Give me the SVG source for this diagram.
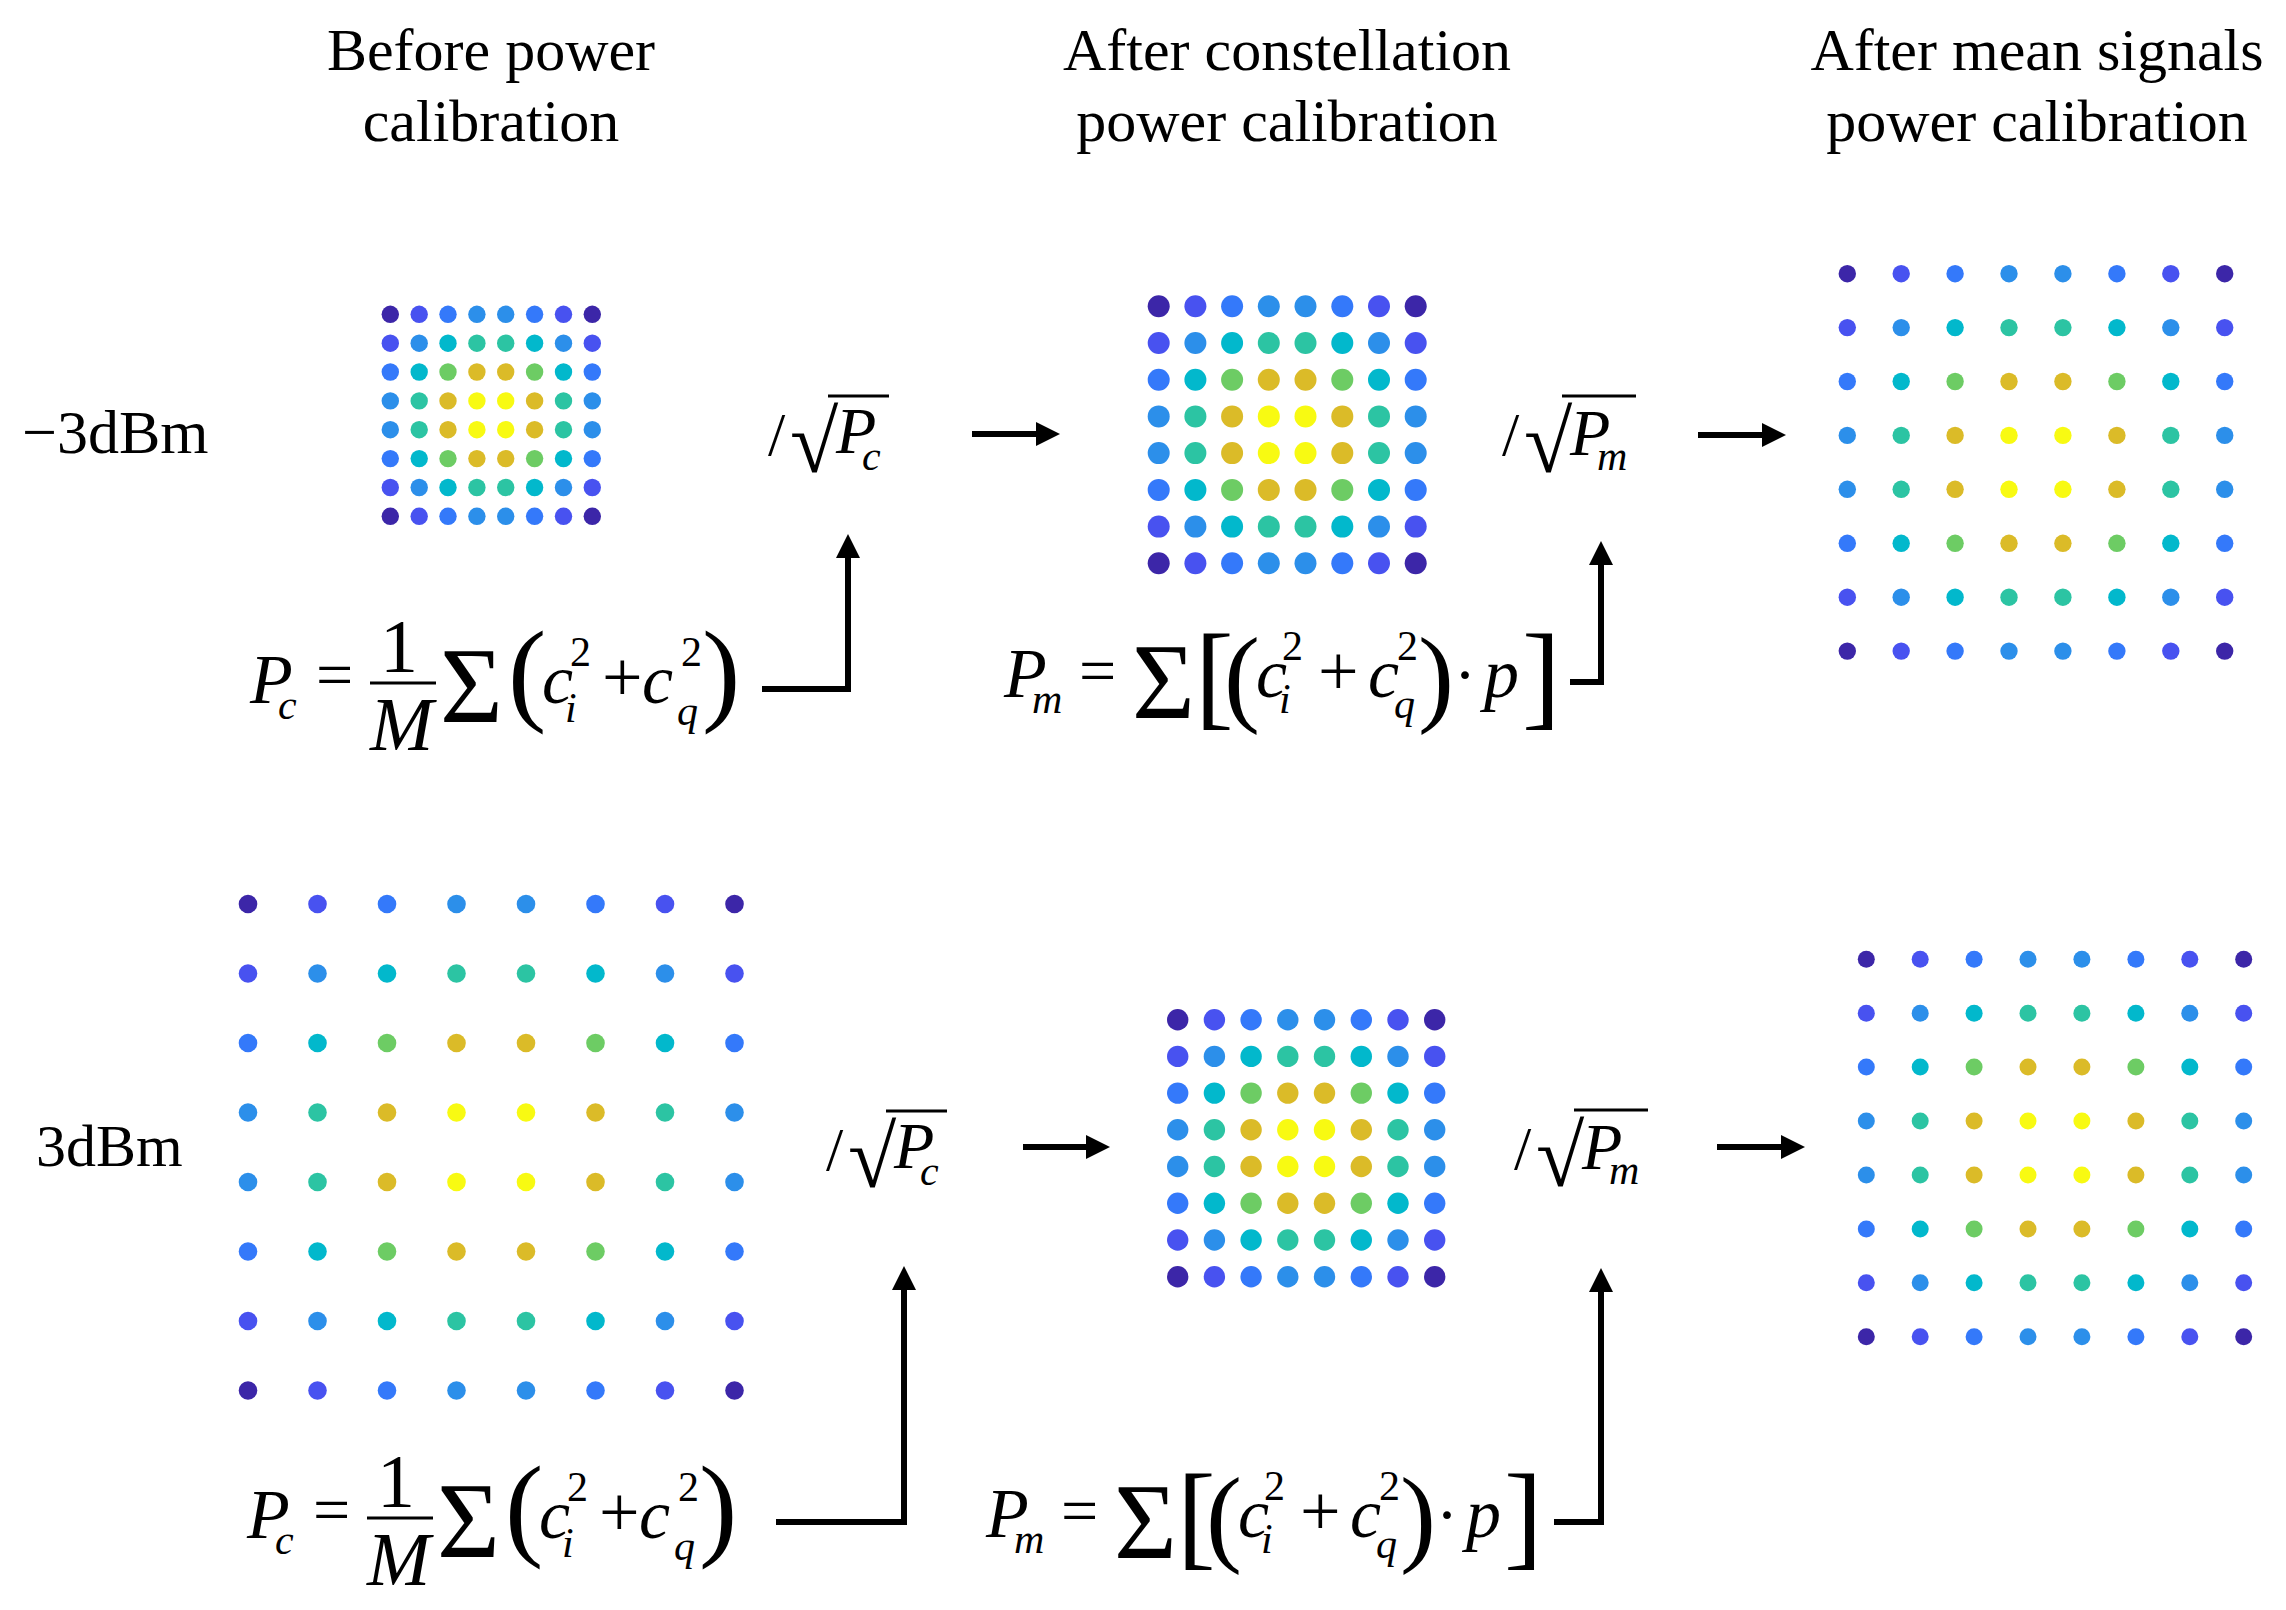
<svg xmlns="http://www.w3.org/2000/svg" width="2286" height="1610" viewBox="0 0 2286 1610">
<style>
.t{font-family:"Liberation Serif","Times New Roman",serif;font-size:60px;fill:#000}
.m{font-family:"Liberation Serif","Times New Roman",serif;font-size:66px;fill:#000}
.i{font-style:italic}
.v{font-size:70px}
.s{font-size:42px}
.f{font-size:76px}
.pl{font-size:72px}
.ln{stroke:#000;stroke-width:6;fill:none}
.bar{stroke:#000;stroke-width:3}
.k0{fill:#F8FA12}.k1{fill:#DBBB28}.k2{fill:#6DCC64}.k3{fill:#2CC4A3}.k4{fill:#02B8CC}
.k5{fill:#2C8FEA}.k6{fill:#3479FA}.k7{fill:#4852F0}.k8{fill:#3C26A8}
</style>
<defs>
<marker id="ah" markerUnits="userSpaceOnUse" markerWidth="24" markerHeight="24" refX="12" refY="12" orient="auto" viewBox="0 0 24 24"><path d="M0,0 L24,12 L0,24 Z" fill="#000"/></marker>
</defs>
<rect width="2286" height="1610" fill="#fff"/>

<g id="titles">
<text class="t" x="491" y="70" text-anchor="middle">Before power</text>
<text class="t" x="491" y="141" text-anchor="middle">calibration</text>
<text class="t" x="1287" y="70" text-anchor="middle">After constellation</text>
<text class="t" x="1287" y="141" text-anchor="middle">power calibration</text>
<text class="t" x="2037" y="70" text-anchor="middle">After mean signals</text>
<text class="t" x="2037" y="141" text-anchor="middle">power calibration</text>
</g>
<g id="row-labels">
<text class="t" x="22" y="453" style="font-size:62px">−3dBm</text>
<text class="t" x="36" y="1166">3dBm</text>
</g>

<g id="grid-top-before">
<g transform="translate(0,314.3)"><circle class="k8" cx="390.3" r="8.7"/><circle class="k7" cx="419.2" r="8.7"/><circle class="k6" cx="448" r="8.7"/><circle class="k5" cx="476.9" r="8.7"/><circle class="k5" cx="505.7" r="8.7"/><circle class="k6" cx="534.6" r="8.7"/><circle class="k7" cx="563.5" r="8.7"/><circle class="k8" cx="592.3" r="8.7"/></g>
<g transform="translate(0,343.2)"><circle class="k7" cx="390.3" r="8.7"/><circle class="k5" cx="419.2" r="8.7"/><circle class="k4" cx="448" r="8.7"/><circle class="k3" cx="476.9" r="8.7"/><circle class="k3" cx="505.7" r="8.7"/><circle class="k4" cx="534.6" r="8.7"/><circle class="k5" cx="563.5" r="8.7"/><circle class="k7" cx="592.3" r="8.7"/></g>
<g transform="translate(0,372)"><circle class="k6" cx="390.3" r="8.7"/><circle class="k4" cx="419.2" r="8.7"/><circle class="k2" cx="448" r="8.7"/><circle class="k1" cx="476.9" r="8.7"/><circle class="k1" cx="505.7" r="8.7"/><circle class="k2" cx="534.6" r="8.7"/><circle class="k4" cx="563.5" r="8.7"/><circle class="k6" cx="592.3" r="8.7"/></g>
<g transform="translate(0,400.9)"><circle class="k5" cx="390.3" r="8.7"/><circle class="k3" cx="419.2" r="8.7"/><circle class="k1" cx="448" r="8.7"/><circle class="k0" cx="476.9" r="8.7"/><circle class="k0" cx="505.7" r="8.7"/><circle class="k1" cx="534.6" r="8.7"/><circle class="k3" cx="563.5" r="8.7"/><circle class="k5" cx="592.3" r="8.7"/></g>
<g transform="translate(0,429.7)"><circle class="k5" cx="390.3" r="8.7"/><circle class="k3" cx="419.2" r="8.7"/><circle class="k1" cx="448" r="8.7"/><circle class="k0" cx="476.9" r="8.7"/><circle class="k0" cx="505.7" r="8.7"/><circle class="k1" cx="534.6" r="8.7"/><circle class="k3" cx="563.5" r="8.7"/><circle class="k5" cx="592.3" r="8.7"/></g>
<g transform="translate(0,458.6)"><circle class="k6" cx="390.3" r="8.7"/><circle class="k4" cx="419.2" r="8.7"/><circle class="k2" cx="448" r="8.7"/><circle class="k1" cx="476.9" r="8.7"/><circle class="k1" cx="505.7" r="8.7"/><circle class="k2" cx="534.6" r="8.7"/><circle class="k4" cx="563.5" r="8.7"/><circle class="k6" cx="592.3" r="8.7"/></g>
<g transform="translate(0,487.5)"><circle class="k7" cx="390.3" r="8.7"/><circle class="k5" cx="419.2" r="8.7"/><circle class="k4" cx="448" r="8.7"/><circle class="k3" cx="476.9" r="8.7"/><circle class="k3" cx="505.7" r="8.7"/><circle class="k4" cx="534.6" r="8.7"/><circle class="k5" cx="563.5" r="8.7"/><circle class="k7" cx="592.3" r="8.7"/></g>
<g transform="translate(0,516.3)"><circle class="k8" cx="390.3" r="8.7"/><circle class="k7" cx="419.2" r="8.7"/><circle class="k6" cx="448" r="8.7"/><circle class="k5" cx="476.9" r="8.7"/><circle class="k5" cx="505.7" r="8.7"/><circle class="k6" cx="534.6" r="8.7"/><circle class="k7" cx="563.5" r="8.7"/><circle class="k8" cx="592.3" r="8.7"/></g>
</g>

<g id="grid-top-constellation">
<g transform="translate(0,306.3)"><circle class="k8" cx="1158.7" r="11"/><circle class="k7" cx="1195.4" r="11"/><circle class="k6" cx="1232.1" r="11"/><circle class="k5" cx="1268.8" r="11"/><circle class="k5" cx="1305.5" r="11"/><circle class="k6" cx="1342.3" r="11"/><circle class="k7" cx="1379" r="11"/><circle class="k8" cx="1415.7" r="11"/></g>
<g transform="translate(0,343)"><circle class="k7" cx="1158.7" r="11"/><circle class="k5" cx="1195.4" r="11"/><circle class="k4" cx="1232.1" r="11"/><circle class="k3" cx="1268.8" r="11"/><circle class="k3" cx="1305.5" r="11"/><circle class="k4" cx="1342.3" r="11"/><circle class="k5" cx="1379" r="11"/><circle class="k7" cx="1415.7" r="11"/></g>
<g transform="translate(0,379.7)"><circle class="k6" cx="1158.7" r="11"/><circle class="k4" cx="1195.4" r="11"/><circle class="k2" cx="1232.1" r="11"/><circle class="k1" cx="1268.8" r="11"/><circle class="k1" cx="1305.5" r="11"/><circle class="k2" cx="1342.3" r="11"/><circle class="k4" cx="1379" r="11"/><circle class="k6" cx="1415.7" r="11"/></g>
<g transform="translate(0,416.4)"><circle class="k5" cx="1158.7" r="11"/><circle class="k3" cx="1195.4" r="11"/><circle class="k1" cx="1232.1" r="11"/><circle class="k0" cx="1268.8" r="11"/><circle class="k0" cx="1305.5" r="11"/><circle class="k1" cx="1342.3" r="11"/><circle class="k3" cx="1379" r="11"/><circle class="k5" cx="1415.7" r="11"/></g>
<g transform="translate(0,453.1)"><circle class="k5" cx="1158.7" r="11"/><circle class="k3" cx="1195.4" r="11"/><circle class="k1" cx="1232.1" r="11"/><circle class="k0" cx="1268.8" r="11"/><circle class="k0" cx="1305.5" r="11"/><circle class="k1" cx="1342.3" r="11"/><circle class="k3" cx="1379" r="11"/><circle class="k5" cx="1415.7" r="11"/></g>
<g transform="translate(0,489.9)"><circle class="k6" cx="1158.7" r="11"/><circle class="k4" cx="1195.4" r="11"/><circle class="k2" cx="1232.1" r="11"/><circle class="k1" cx="1268.8" r="11"/><circle class="k1" cx="1305.5" r="11"/><circle class="k2" cx="1342.3" r="11"/><circle class="k4" cx="1379" r="11"/><circle class="k6" cx="1415.7" r="11"/></g>
<g transform="translate(0,526.6)"><circle class="k7" cx="1158.7" r="11"/><circle class="k5" cx="1195.4" r="11"/><circle class="k4" cx="1232.1" r="11"/><circle class="k3" cx="1268.8" r="11"/><circle class="k3" cx="1305.5" r="11"/><circle class="k4" cx="1342.3" r="11"/><circle class="k5" cx="1379" r="11"/><circle class="k7" cx="1415.7" r="11"/></g>
<g transform="translate(0,563.3)"><circle class="k8" cx="1158.7" r="11"/><circle class="k7" cx="1195.4" r="11"/><circle class="k6" cx="1232.1" r="11"/><circle class="k5" cx="1268.8" r="11"/><circle class="k5" cx="1305.5" r="11"/><circle class="k6" cx="1342.3" r="11"/><circle class="k7" cx="1379" r="11"/><circle class="k8" cx="1415.7" r="11"/></g>
</g>

<g id="grid-top-mean">
<g transform="translate(0,273.7)"><circle class="k8" cx="1847.3" r="8.7"/><circle class="k7" cx="1901.2" r="8.7"/><circle class="k6" cx="1955.1" r="8.7"/><circle class="k5" cx="2009" r="8.7"/><circle class="k5" cx="2062.9" r="8.7"/><circle class="k6" cx="2116.9" r="8.7"/><circle class="k7" cx="2170.8" r="8.7"/><circle class="k8" cx="2224.7" r="8.7"/></g>
<g transform="translate(0,327.6)"><circle class="k7" cx="1847.3" r="8.7"/><circle class="k5" cx="1901.2" r="8.7"/><circle class="k4" cx="1955.1" r="8.7"/><circle class="k3" cx="2009" r="8.7"/><circle class="k3" cx="2062.9" r="8.7"/><circle class="k4" cx="2116.9" r="8.7"/><circle class="k5" cx="2170.8" r="8.7"/><circle class="k7" cx="2224.7" r="8.7"/></g>
<g transform="translate(0,381.5)"><circle class="k6" cx="1847.3" r="8.7"/><circle class="k4" cx="1901.2" r="8.7"/><circle class="k2" cx="1955.1" r="8.7"/><circle class="k1" cx="2009" r="8.7"/><circle class="k1" cx="2062.9" r="8.7"/><circle class="k2" cx="2116.9" r="8.7"/><circle class="k4" cx="2170.8" r="8.7"/><circle class="k6" cx="2224.7" r="8.7"/></g>
<g transform="translate(0,435.4)"><circle class="k5" cx="1847.3" r="8.7"/><circle class="k3" cx="1901.2" r="8.7"/><circle class="k1" cx="1955.1" r="8.7"/><circle class="k0" cx="2009" r="8.7"/><circle class="k0" cx="2062.9" r="8.7"/><circle class="k1" cx="2116.9" r="8.7"/><circle class="k3" cx="2170.8" r="8.7"/><circle class="k5" cx="2224.7" r="8.7"/></g>
<g transform="translate(0,489.3)"><circle class="k5" cx="1847.3" r="8.7"/><circle class="k3" cx="1901.2" r="8.7"/><circle class="k1" cx="1955.1" r="8.7"/><circle class="k0" cx="2009" r="8.7"/><circle class="k0" cx="2062.9" r="8.7"/><circle class="k1" cx="2116.9" r="8.7"/><circle class="k3" cx="2170.8" r="8.7"/><circle class="k5" cx="2224.7" r="8.7"/></g>
<g transform="translate(0,543.3)"><circle class="k6" cx="1847.3" r="8.7"/><circle class="k4" cx="1901.2" r="8.7"/><circle class="k2" cx="1955.1" r="8.7"/><circle class="k1" cx="2009" r="8.7"/><circle class="k1" cx="2062.9" r="8.7"/><circle class="k2" cx="2116.9" r="8.7"/><circle class="k4" cx="2170.8" r="8.7"/><circle class="k6" cx="2224.7" r="8.7"/></g>
<g transform="translate(0,597.2)"><circle class="k7" cx="1847.3" r="8.7"/><circle class="k5" cx="1901.2" r="8.7"/><circle class="k4" cx="1955.1" r="8.7"/><circle class="k3" cx="2009" r="8.7"/><circle class="k3" cx="2062.9" r="8.7"/><circle class="k4" cx="2116.9" r="8.7"/><circle class="k5" cx="2170.8" r="8.7"/><circle class="k7" cx="2224.7" r="8.7"/></g>
<g transform="translate(0,651.1)"><circle class="k8" cx="1847.3" r="8.7"/><circle class="k7" cx="1901.2" r="8.7"/><circle class="k6" cx="1955.1" r="8.7"/><circle class="k5" cx="2009" r="8.7"/><circle class="k5" cx="2062.9" r="8.7"/><circle class="k6" cx="2116.9" r="8.7"/><circle class="k7" cx="2170.8" r="8.7"/><circle class="k8" cx="2224.7" r="8.7"/></g>
</g>

<g id="grid-bottom-before">
<g transform="translate(0,904)"><circle class="k8" cx="248" r="9.3"/><circle class="k7" cx="317.5" r="9.3"/><circle class="k6" cx="387" r="9.3"/><circle class="k5" cx="456.5" r="9.3"/><circle class="k5" cx="526" r="9.3"/><circle class="k6" cx="595.5" r="9.3"/><circle class="k7" cx="665" r="9.3"/><circle class="k8" cx="734.5" r="9.3"/></g>
<g transform="translate(0,973.5)"><circle class="k7" cx="248" r="9.3"/><circle class="k5" cx="317.5" r="9.3"/><circle class="k4" cx="387" r="9.3"/><circle class="k3" cx="456.5" r="9.3"/><circle class="k3" cx="526" r="9.3"/><circle class="k4" cx="595.5" r="9.3"/><circle class="k5" cx="665" r="9.3"/><circle class="k7" cx="734.5" r="9.3"/></g>
<g transform="translate(0,1043)"><circle class="k6" cx="248" r="9.3"/><circle class="k4" cx="317.5" r="9.3"/><circle class="k2" cx="387" r="9.3"/><circle class="k1" cx="456.5" r="9.3"/><circle class="k1" cx="526" r="9.3"/><circle class="k2" cx="595.5" r="9.3"/><circle class="k4" cx="665" r="9.3"/><circle class="k6" cx="734.5" r="9.3"/></g>
<g transform="translate(0,1112.5)"><circle class="k5" cx="248" r="9.3"/><circle class="k3" cx="317.5" r="9.3"/><circle class="k1" cx="387" r="9.3"/><circle class="k0" cx="456.5" r="9.3"/><circle class="k0" cx="526" r="9.3"/><circle class="k1" cx="595.5" r="9.3"/><circle class="k3" cx="665" r="9.3"/><circle class="k5" cx="734.5" r="9.3"/></g>
<g transform="translate(0,1182)"><circle class="k5" cx="248" r="9.3"/><circle class="k3" cx="317.5" r="9.3"/><circle class="k1" cx="387" r="9.3"/><circle class="k0" cx="456.5" r="9.3"/><circle class="k0" cx="526" r="9.3"/><circle class="k1" cx="595.5" r="9.3"/><circle class="k3" cx="665" r="9.3"/><circle class="k5" cx="734.5" r="9.3"/></g>
<g transform="translate(0,1251.5)"><circle class="k6" cx="248" r="9.3"/><circle class="k4" cx="317.5" r="9.3"/><circle class="k2" cx="387" r="9.3"/><circle class="k1" cx="456.5" r="9.3"/><circle class="k1" cx="526" r="9.3"/><circle class="k2" cx="595.5" r="9.3"/><circle class="k4" cx="665" r="9.3"/><circle class="k6" cx="734.5" r="9.3"/></g>
<g transform="translate(0,1321)"><circle class="k7" cx="248" r="9.3"/><circle class="k5" cx="317.5" r="9.3"/><circle class="k4" cx="387" r="9.3"/><circle class="k3" cx="456.5" r="9.3"/><circle class="k3" cx="526" r="9.3"/><circle class="k4" cx="595.5" r="9.3"/><circle class="k5" cx="665" r="9.3"/><circle class="k7" cx="734.5" r="9.3"/></g>
<g transform="translate(0,1390.5)"><circle class="k8" cx="248" r="9.3"/><circle class="k7" cx="317.5" r="9.3"/><circle class="k6" cx="387" r="9.3"/><circle class="k5" cx="456.5" r="9.3"/><circle class="k5" cx="526" r="9.3"/><circle class="k6" cx="595.5" r="9.3"/><circle class="k7" cx="665" r="9.3"/><circle class="k8" cx="734.5" r="9.3"/></g>
</g>

<g id="grid-bottom-constellation">
<g transform="translate(0,1019.7)"><circle class="k8" cx="1177.7" r="10.7"/><circle class="k7" cx="1214.4" r="10.7"/><circle class="k6" cx="1251.1" r="10.7"/><circle class="k5" cx="1287.8" r="10.7"/><circle class="k5" cx="1324.5" r="10.7"/><circle class="k6" cx="1361.3" r="10.7"/><circle class="k7" cx="1398" r="10.7"/><circle class="k8" cx="1434.7" r="10.7"/></g>
<g transform="translate(0,1056.4)"><circle class="k7" cx="1177.7" r="10.7"/><circle class="k5" cx="1214.4" r="10.7"/><circle class="k4" cx="1251.1" r="10.7"/><circle class="k3" cx="1287.8" r="10.7"/><circle class="k3" cx="1324.5" r="10.7"/><circle class="k4" cx="1361.3" r="10.7"/><circle class="k5" cx="1398" r="10.7"/><circle class="k7" cx="1434.7" r="10.7"/></g>
<g transform="translate(0,1093.1)"><circle class="k6" cx="1177.7" r="10.7"/><circle class="k4" cx="1214.4" r="10.7"/><circle class="k2" cx="1251.1" r="10.7"/><circle class="k1" cx="1287.8" r="10.7"/><circle class="k1" cx="1324.5" r="10.7"/><circle class="k2" cx="1361.3" r="10.7"/><circle class="k4" cx="1398" r="10.7"/><circle class="k6" cx="1434.7" r="10.7"/></g>
<g transform="translate(0,1129.8)"><circle class="k5" cx="1177.7" r="10.7"/><circle class="k3" cx="1214.4" r="10.7"/><circle class="k1" cx="1251.1" r="10.7"/><circle class="k0" cx="1287.8" r="10.7"/><circle class="k0" cx="1324.5" r="10.7"/><circle class="k1" cx="1361.3" r="10.7"/><circle class="k3" cx="1398" r="10.7"/><circle class="k5" cx="1434.7" r="10.7"/></g>
<g transform="translate(0,1166.5)"><circle class="k5" cx="1177.7" r="10.7"/><circle class="k3" cx="1214.4" r="10.7"/><circle class="k1" cx="1251.1" r="10.7"/><circle class="k0" cx="1287.8" r="10.7"/><circle class="k0" cx="1324.5" r="10.7"/><circle class="k1" cx="1361.3" r="10.7"/><circle class="k3" cx="1398" r="10.7"/><circle class="k5" cx="1434.7" r="10.7"/></g>
<g transform="translate(0,1203.3)"><circle class="k6" cx="1177.7" r="10.7"/><circle class="k4" cx="1214.4" r="10.7"/><circle class="k2" cx="1251.1" r="10.7"/><circle class="k1" cx="1287.8" r="10.7"/><circle class="k1" cx="1324.5" r="10.7"/><circle class="k2" cx="1361.3" r="10.7"/><circle class="k4" cx="1398" r="10.7"/><circle class="k6" cx="1434.7" r="10.7"/></g>
<g transform="translate(0,1240)"><circle class="k7" cx="1177.7" r="10.7"/><circle class="k5" cx="1214.4" r="10.7"/><circle class="k4" cx="1251.1" r="10.7"/><circle class="k3" cx="1287.8" r="10.7"/><circle class="k3" cx="1324.5" r="10.7"/><circle class="k4" cx="1361.3" r="10.7"/><circle class="k5" cx="1398" r="10.7"/><circle class="k7" cx="1434.7" r="10.7"/></g>
<g transform="translate(0,1276.7)"><circle class="k8" cx="1177.7" r="10.7"/><circle class="k7" cx="1214.4" r="10.7"/><circle class="k6" cx="1251.1" r="10.7"/><circle class="k5" cx="1287.8" r="10.7"/><circle class="k5" cx="1324.5" r="10.7"/><circle class="k6" cx="1361.3" r="10.7"/><circle class="k7" cx="1398" r="10.7"/><circle class="k8" cx="1434.7" r="10.7"/></g>
</g>

<g id="grid-bottom-mean">
<g transform="translate(0,959.3)"><circle class="k8" cx="1866.3" r="8.5"/><circle class="k7" cx="1920.2" r="8.5"/><circle class="k6" cx="1974.1" r="8.5"/><circle class="k5" cx="2028" r="8.5"/><circle class="k5" cx="2081.9" r="8.5"/><circle class="k6" cx="2135.9" r="8.5"/><circle class="k7" cx="2189.8" r="8.5"/><circle class="k8" cx="2243.7" r="8.5"/></g>
<g transform="translate(0,1013.2)"><circle class="k7" cx="1866.3" r="8.5"/><circle class="k5" cx="1920.2" r="8.5"/><circle class="k4" cx="1974.1" r="8.5"/><circle class="k3" cx="2028" r="8.5"/><circle class="k3" cx="2081.9" r="8.5"/><circle class="k4" cx="2135.9" r="8.5"/><circle class="k5" cx="2189.8" r="8.5"/><circle class="k7" cx="2243.7" r="8.5"/></g>
<g transform="translate(0,1067.1)"><circle class="k6" cx="1866.3" r="8.5"/><circle class="k4" cx="1920.2" r="8.5"/><circle class="k2" cx="1974.1" r="8.5"/><circle class="k1" cx="2028" r="8.5"/><circle class="k1" cx="2081.9" r="8.5"/><circle class="k2" cx="2135.9" r="8.5"/><circle class="k4" cx="2189.8" r="8.5"/><circle class="k6" cx="2243.7" r="8.5"/></g>
<g transform="translate(0,1121)"><circle class="k5" cx="1866.3" r="8.5"/><circle class="k3" cx="1920.2" r="8.5"/><circle class="k1" cx="1974.1" r="8.5"/><circle class="k0" cx="2028" r="8.5"/><circle class="k0" cx="2081.9" r="8.5"/><circle class="k1" cx="2135.9" r="8.5"/><circle class="k3" cx="2189.8" r="8.5"/><circle class="k5" cx="2243.7" r="8.5"/></g>
<g transform="translate(0,1174.9)"><circle class="k5" cx="1866.3" r="8.5"/><circle class="k3" cx="1920.2" r="8.5"/><circle class="k1" cx="1974.1" r="8.5"/><circle class="k0" cx="2028" r="8.5"/><circle class="k0" cx="2081.9" r="8.5"/><circle class="k1" cx="2135.9" r="8.5"/><circle class="k3" cx="2189.8" r="8.5"/><circle class="k5" cx="2243.7" r="8.5"/></g>
<g transform="translate(0,1228.9)"><circle class="k6" cx="1866.3" r="8.5"/><circle class="k4" cx="1920.2" r="8.5"/><circle class="k2" cx="1974.1" r="8.5"/><circle class="k1" cx="2028" r="8.5"/><circle class="k1" cx="2081.9" r="8.5"/><circle class="k2" cx="2135.9" r="8.5"/><circle class="k4" cx="2189.8" r="8.5"/><circle class="k6" cx="2243.7" r="8.5"/></g>
<g transform="translate(0,1282.8)"><circle class="k7" cx="1866.3" r="8.5"/><circle class="k5" cx="1920.2" r="8.5"/><circle class="k4" cx="1974.1" r="8.5"/><circle class="k3" cx="2028" r="8.5"/><circle class="k3" cx="2081.9" r="8.5"/><circle class="k4" cx="2135.9" r="8.5"/><circle class="k5" cx="2189.8" r="8.5"/><circle class="k7" cx="2243.7" r="8.5"/></g>
<g transform="translate(0,1336.7)"><circle class="k8" cx="1866.3" r="8.5"/><circle class="k7" cx="1920.2" r="8.5"/><circle class="k6" cx="1974.1" r="8.5"/><circle class="k5" cx="2028" r="8.5"/><circle class="k5" cx="2081.9" r="8.5"/><circle class="k6" cx="2135.9" r="8.5"/><circle class="k7" cx="2189.8" r="8.5"/><circle class="k8" cx="2243.7" r="8.5"/></g>
</g>

<g id="formula-pc-top">
<text class="m"><tspan class="i v" x="250" y="703">P</tspan><tspan class="i s" x="278" y="719">c</tspan><tspan x="316" y="697">=</tspan><tspan class="f" x="380" y="672">1</tspan><tspan class="i f" x="370" y="750">M</tspan><tspan x="440" y="722" style="font-size:108px">Σ</tspan><tspan x="508" y="710" style="font-size:115px">(</tspan><tspan class="i v" x="542" y="703">c</tspan><tspan class="s" x="570" y="666">2</tspan><tspan class="i s" x="565" y="722">i</tspan><tspan class="pl" x="602" y="701">+</tspan><tspan class="i v" x="642" y="703">c</tspan><tspan class="s" x="681" y="666">2</tspan><tspan class="i s" x="677" y="725">q</tspan><tspan x="702" y="710" style="font-size:115px">)</tspan></text>
<line class="bar" x1="370" y1="683" x2="436" y2="683"/>
</g>

<g id="formula-pm-top">
<text class="m"><tspan class="i v" x="1004" y="697">P</tspan><tspan class="i s" x="1032" y="713">m</tspan><tspan x="1079" y="693">=</tspan><tspan x="1132" y="718" style="font-size:108px">Σ</tspan><tspan x="1195" y="714" style="font-size:116px">[</tspan><tspan x="1224" y="712" style="font-size:108px">(</tspan><tspan class="i v" x="1256" y="697">c</tspan><tspan class="s" x="1282" y="660">2</tspan><tspan class="i s" x="1279" y="713">i</tspan><tspan class="pl" x="1318" y="695">+</tspan><tspan class="i v" x="1368" y="697">c</tspan><tspan class="s" x="1397" y="660">2</tspan><tspan class="i s" x="1394" y="718">q</tspan><tspan x="1418" y="712" style="font-size:108px">)</tspan><tspan x="1454" y="697">·</tspan><tspan class="i v" x="1484" y="697">p</tspan><tspan x="1522" y="714" style="font-size:116px">]</tspan></text>
</g>

<g id="formula-pc-bottom" transform="translate(-3,835)">
<text class="m"><tspan class="i v" x="250" y="703">P</tspan><tspan class="i s" x="278" y="719">c</tspan><tspan x="316" y="697">=</tspan><tspan class="f" x="380" y="672">1</tspan><tspan class="i f" x="370" y="750">M</tspan><tspan x="440" y="722" style="font-size:108px">Σ</tspan><tspan x="508" y="710" style="font-size:115px">(</tspan><tspan class="i v" x="542" y="703">c</tspan><tspan class="s" x="570" y="666">2</tspan><tspan class="i s" x="565" y="722">i</tspan><tspan class="pl" x="602" y="701">+</tspan><tspan class="i v" x="642" y="703">c</tspan><tspan class="s" x="681" y="666">2</tspan><tspan class="i s" x="677" y="725">q</tspan><tspan x="702" y="710" style="font-size:115px">)</tspan></text>
<line class="bar" x1="370" y1="683" x2="436" y2="683"/>
</g>

<g id="formula-pm-bottom" transform="translate(-18,840)">
<text class="m"><tspan class="i v" x="1004" y="697">P</tspan><tspan class="i s" x="1032" y="713">m</tspan><tspan x="1079" y="693">=</tspan><tspan x="1132" y="718" style="font-size:108px">Σ</tspan><tspan x="1195" y="714" style="font-size:116px">[</tspan><tspan x="1224" y="712" style="font-size:108px">(</tspan><tspan class="i v" x="1256" y="697">c</tspan><tspan class="s" x="1282" y="660">2</tspan><tspan class="i s" x="1279" y="713">i</tspan><tspan class="pl" x="1318" y="695">+</tspan><tspan class="i v" x="1368" y="697">c</tspan><tspan class="s" x="1397" y="660">2</tspan><tspan class="i s" x="1394" y="718">q</tspan><tspan x="1418" y="712" style="font-size:108px">)</tspan><tspan x="1454" y="697">·</tspan><tspan class="i v" x="1484" y="697">p</tspan><tspan x="1522" y="714" style="font-size:116px">]</tspan></text>
</g>

<g id="div-pc-top">
<text class="m"><tspan x="768" y="455" style="font-size:62px">/</tspan><tspan x="790" y="472" style="font-size:88px">√</tspan><tspan class="i" x="836" y="453">P</tspan><tspan class="i s" x="862" y="470">c</tspan></text>
<line class="bar" x1="828" y1="396" x2="889" y2="396"/>
</g>
<g id="div-pm-top">
<text class="m"><tspan x="1502" y="455" style="font-size:62px">/</tspan><tspan x="1524" y="472" style="font-size:88px">√</tspan><tspan class="i" x="1570" y="455">P</tspan><tspan class="i s" x="1597" y="470">m</tspan></text>
<line class="bar" x1="1562" y1="396" x2="1636" y2="396"/>
</g>
<g id="div-pc-bottom" transform="translate(58,715)">
<text class="m"><tspan x="768" y="455" style="font-size:62px">/</tspan><tspan x="790" y="472" style="font-size:88px">√</tspan><tspan class="i" x="836" y="453">P</tspan><tspan class="i s" x="862" y="470">c</tspan></text>
<line class="bar" x1="828" y1="396" x2="889" y2="396"/>
</g>
<g id="div-pm-bottom" transform="translate(12,714)">
<text class="m"><tspan x="1502" y="455" style="font-size:62px">/</tspan><tspan x="1524" y="472" style="font-size:88px">√</tspan><tspan class="i" x="1570" y="455">P</tspan><tspan class="i s" x="1597" y="470">m</tspan></text>
<line class="bar" x1="1562" y1="396" x2="1636" y2="396"/>
</g>

<g id="connectors">
<path class="ln" d="M972,434 H1048" marker-end="url(#ah)"/>
<path class="ln" d="M1698,435 H1774" marker-end="url(#ah)"/>
<path class="ln" d="M1023,1147 H1098" marker-end="url(#ah)"/>
<path class="ln" d="M1717,1147 H1793" marker-end="url(#ah)"/>
<path class="ln" d="M762,689 H848 V546" marker-end="url(#ah)"/>
<path class="ln" d="M1570,682 H1601 V553" marker-end="url(#ah)"/>
<path class="ln" d="M776,1522 H904 V1278" marker-end="url(#ah)"/>
<path class="ln" d="M1554,1522 H1601 V1280" marker-end="url(#ah)"/>
</g>
</svg>
